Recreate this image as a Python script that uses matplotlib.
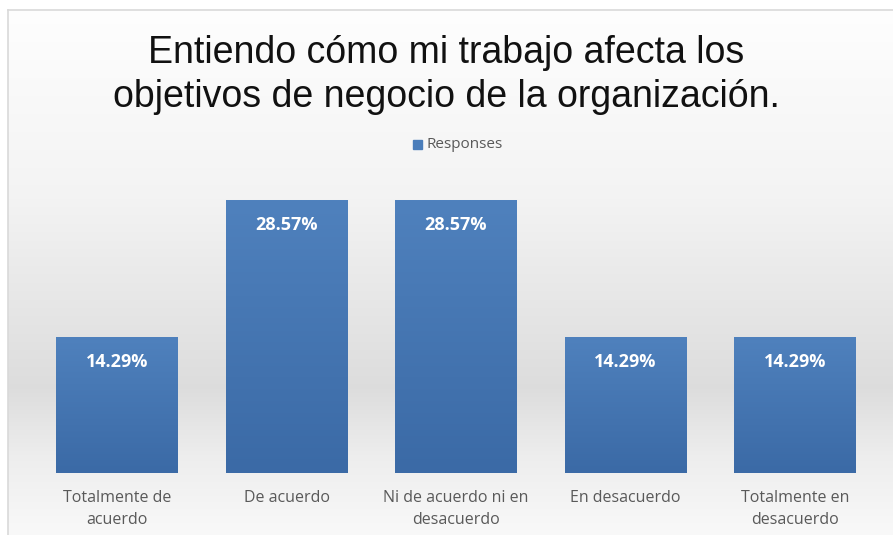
import numpy as np
import matplotlib.pyplot as plt
from matplotlib.colors import LinearSegmentedColormap

categories = ["Totalmente de\nacuerdo", "De acuerdo", "Ni de acuerdo ni en\ndesacuerdo",
              "En desacuerdo", "Totalmente en\ndesacuerdo"]
values = [14.29, 28.57, 28.57, 14.29, 14.29]
labels = ["14.29%", "28.57%", "28.57%", "14.29%", "14.29%"]
title = "Entiendo cómo mi trabajo afecta los\nobjetivos de negocio de la organización."
series_name = "Responses"

W, H = 893, 535
fig = plt.figure(figsize=(W / 100, H / 100), dpi=100)
fig.patch.set_facecolor("white")

# chart area background, light at top, grey band low down, lighter at the bottom
bg = fig.add_axes([8 / W, 0, 1 - 8 / W, 1 - 10 / H])
bg.set_axis_off()
ys = np.linspace(0, 1, 300)
stops = [(0.0, 0.995), (0.35, 0.955), (0.72, 0.865), (0.85, 0.93), (1.0, 0.975)]
g = np.interp(ys, [s[0] for s in stops], [s[1] for s in stops])
img = np.repeat(g[:, None], 2, axis=1)
img = np.stack([img, img, img], axis=2)
bg.imshow(img, aspect="auto", extent=[0, 1, 0, 1], origin="upper")
bg.set_xlim(0, 1)
bg.set_ylim(0, 1)

# border lines
fig.add_artist(plt.Line2D([8 / W, 8 / W], [0, 1 - 10 / H], color="#d9d9d9", lw=1.2))
fig.add_artist(plt.Line2D([8 / W, 1], [1 - 10 / H, 1 - 10 / H], color="#d9d9d9", lw=1.2))

ax = fig.add_axes([32.25 / W, 62 / H, 847.5 / W, 286.5 / H])
ax.set_facecolor("none")
x = np.arange(len(values))
bars = ax.bar(x, values, width=0.714, color="#4a7dba", zorder=2)

blue = LinearSegmentedColormap.from_list("b", ["#4f81bd", "#3b6aa6"])
grad = np.linspace(0, 1, 100)[:, None]
for b in bars:
    x0, y0 = b.get_x(), b.get_y()
    im = ax.imshow(grad, cmap=blue, aspect="auto", zorder=3,
                   extent=[x0, x0 + b.get_width(), y0, y0 + b.get_height()], origin="upper")
    im.set_clip_path(b)

for xi, v, lab in zip(x, values, labels):
    ax.text(xi, v - 2.65, lab, ha="center", va="center", color="white",
            fontsize=13, fontweight="bold", family="Open Sans", zorder=4)

ax.set_xlim(-0.5, len(values) - 0.5)
ax.set_ylim(0, 30)
ax.set_xticks(x)
ax.set_xticklabels(categories, fontsize=11.5, color="#595959", family="Open Sans",
                   linespacing=1.5)
ax.tick_params(axis="x", length=0, pad=12)
ax.set_yticks([])
for s in ax.spines.values():
    s.set_visible(False)

fig.text(0.5, 1 - 75 / H, title, ha="center", va="center", fontsize=27,
         family="Liberation Sans", color="#111111", linespacing=1.3)

fig.add_artist(plt.Rectangle((413 / W, 1 - 149 / H), 9 / W, 9 / H,
                             transform=fig.transFigure, color="#4a7dba"))
fig.text(427 / W, 1 - 144 / H, series_name, ha="left", va="center", fontsize=11,
         family="Open Sans", color="#595959")

fig.savefig("out.png", dpi=100)
